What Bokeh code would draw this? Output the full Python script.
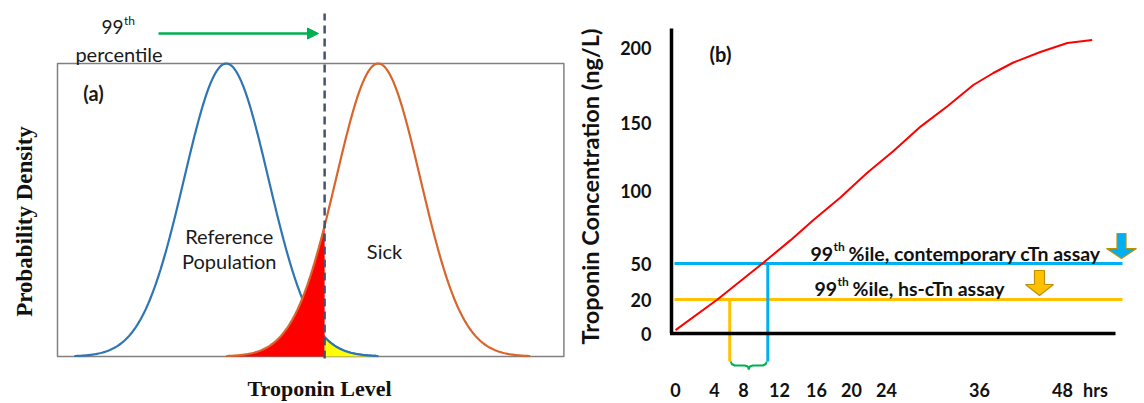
import numpy as np
from bokeh.plotting import figure
from bokeh.layouts import row
from bokeh.models import Range1d, FixedTicker, Arrow, NormalHead, Title
from bokeh.core.properties import value
from bokeh.embed import file_html
from bokeh.resources import INLINE

# ---------------- data : panel (a) ----------------
REF_MEAN = 4.0        # reference population mean (arbitrary troponin units)
SICK_MEAN = 7.6       # sick population mean
SD = 1.0              # common standard deviation
TAIL = 3.6            # curves drawn to +/- 3.6 SD
CUTOFF = 6.33         # 99th percentile of the reference population
BOX_RIGHT = 12.0      # right end of the level axis
LABEL_A = ["Reference", "Population"]
LABEL_SICK = "Sick"

# ---------------- data : panel (b) ----------------
X_TICKS = [0, 4, 8, 12, 16, 20, 24, 36, 48]
X_TICK_LABELS = ["0", "4", "8", "12", "16", "20", "24", "36", "48"]
X_UNIT_LABEL = "hrs"
X_UNIT_HOUR = 52.8
Y_TICKS = [0, 20, 50, 100, 150, 200]
Y_TICK_LABELS = ["0", "20", "50", "100", "150", "200"]
# schematic (non-linear) axes of the original drawing: value -> position
X_SCALE_HOURS = [0, 4, 8, 12, 16, 20, 24, 36, 48, 60]
X_SCALE_POS = [4, 43, 72, 108, 145, 180, 215, 308, 391, 474]
Y_SCALE_CONC = [0, 20, 50, 100, 150, 200, 250]
Y_SCALE_POS = [0, 34, 70, 143, 211, 286, 361]

HOURS = [0, 4.4, 10.1, 13.2, 15.7, 18.7, 21.8, 24.9, 28.4, 31.9, 35.2, 38.0, 40.9, 44.8, 48.7, 52.3]
CONC = [2, 20, 50, 66, 80, 95, 113, 129, 147, 161, 175, 183, 190, 197, 203, 205]

CONTEMP_CUTOFF = 50     # 99th %ile contemporary cTn assay (ng/L)
HS_CUTOFF = 20          # 99th %ile hs-cTn assay (ng/L)
CONTEMP_DETECT_H = 10.7
HS_DETECT_H = 6.1

RED = "#ff0000"
BLUE_A = "#2E75B6"
ORANGE_A = "#D9652B"
CYAN = "#00B0F0"
GOLD = "#FFC000"
GOLD_EDGE = "#BF9000"
GREEN = "#00B050"
FONT = "Lato"
TXT = "#1a1a1a"

H = 403
FRAME_BOTTOM = 372

# =============== panel (a) ===============
PX_X, X0 = 42.2, 57.0          # layout: pixels per unit, box left edge
PX_Y, Y0 = 734.4, 356.0
def lx(px):
    return (px - X0) / PX_X
def ly(py):
    return (Y0 - py) / PX_Y

def pdf(x, mu):
    return np.exp(-0.5 * ((x - mu) / SD) ** 2) / (SD * np.sqrt(2 * np.pi))

peak = pdf(REF_MEAN, REF_MEAN)

p1 = figure(width=572, height=H, output_backend="svg", toolbar_location=None,
            x_range=Range1d(lx(0), lx(572)), y_range=Range1d(ly(FRAME_BOTTOM), ly(0)),
            x_axis_location=None, y_axis_location=None,
            min_border_left=0, min_border_right=0, min_border_top=0,
            min_border_bottom=H - FRAME_BOTTOM)
p1.grid.grid_line_color = None
p1.outline_line_color = None

p1.quad(left=0, right=BOX_RIGHT, bottom=0, top=peak, fill_color=None,
        line_color="#808080", line_width=1.5)

xr = np.linspace(REF_MEAN - TAIL * SD, REF_MEAN + TAIL * SD, 301)
xs = np.linspace(SICK_MEAN - TAIL * SD, SICK_MEAN + TAIL * SD, 301)
p1.line(xr, pdf(xr, REF_MEAN), line_color=BLUE_A, line_width=2.2)

x_red = np.linspace(SICK_MEAN - TAIL * SD, CUTOFF, 150)
p1.varea(x=x_red, y1=np.zeros_like(x_red), y2=pdf(x_red, SICK_MEAN), fill_color=RED)
x_yel = np.linspace(CUTOFF, REF_MEAN + TAIL * SD, 120)
p1.varea(x=x_yel, y1=np.zeros_like(x_yel), y2=pdf(x_yel, REF_MEAN), fill_color="#FFFF00")
p1.line(x_yel, pdf(x_yel, REF_MEAN), line_color=BLUE_A, line_width=2.2)
p1.line(xs, pdf(xs, SICK_MEAN), line_color=ORANGE_A, line_width=2.2)

p1.segment(x0=[CUTOFF], y0=[ly(358)], x1=[CUTOFF], y1=[ly(13)],
           line_color="#44546A", line_width=2.5, line_dash="8 5")

p1.add_layout(Arrow(end=NormalHead(size=11, fill_color=GREEN, line_color=GREEN),
                    x_start=lx(158), y_start=ly(33), x_end=lx(318), y_end=ly(33),
                    line_color=GREEN, line_width=2.5))

def atext(px, py, txt, size, align="left", base="alphabetic", style="normal"):
    p1.text(x=[lx(px)], y=[ly(py)], text=[txt], text_font=value(FONT), text_font_size=size,
            text_font_style=style, text_baseline=base, text_align=align, text_color=TXT)

atext(101, 26, "99", "19px")
atext(123.5, 20, "th", "12px")
atext(118.5, 53, "percentile", "20px", align="center")
atext(93, 92, "(a)", "20px", align="center", base="middle", style="bold")
p1.text(x=[REF_MEAN + 0.07, REF_MEAN + 0.07], y=[ly(235), ly(260)], text=LABEL_A,
        text_font=value(FONT), text_font_size="20px", text_baseline="alphabetic",
        text_align="center", text_color=TXT)
atext(384, 250, LABEL_SICK, "20px", align="center")
p1.text(x=[lx(24)], y=[ly(221)], text=["Probability Density"], angle=np.pi / 2,
        text_font=value("Liberation Serif"), text_font_style="bold", text_font_size="23px",
        text_baseline="middle", text_align="center", text_color="#111111")
p1.add_layout(Title(text="Troponin Level", align="left", offset=247, standoff=3,
                    text_font="Liberation Serif", text_font_style="bold",
                    text_font_size="22px", text_color="#111111"), "below")

# =============== panel (b) ===============
def xp(h):
    return np.interp(h, X_SCALE_HOURS, X_SCALE_POS)
def yp(c):
    return np.interp(c, Y_SCALE_CONC, Y_SCALE_POS)
def ox(px):   # layout helper: picture column -> plot position
    return px - 671
def oy(py):
    return 333 - py

p2 = figure(width=572, height=H, output_backend="svg", toolbar_location=None,
            x_range=Range1d(-9, 473), y_range=Range1d(oy(FRAME_BOTTOM), 333),
            min_border_left=90, min_border_right=0, min_border_top=0,
            min_border_bottom=H - FRAME_BOTTOM)
p2.grid.grid_line_color = None
p2.outline_line_color = None

xtick_pos = [int(round(float(xp(h)))) for h in X_TICKS] + [int(round(float(xp(X_UNIT_HOUR))))]
xlabels = X_TICK_LABELS + [X_UNIT_LABEL]
ytick_pos = [int(round(float(yp(c)))) for c in Y_TICKS]

xa = p2.xaxis[0]
xa.ticker = FixedTicker(ticks=xtick_pos)
xa.major_label_overrides = {t: s for t, s in zip(xtick_pos, xlabels)}
ya = p2.yaxis[0]
ya.ticker = FixedTicker(ticks=ytick_pos)
ya.major_label_overrides = {t: s for t, s in zip(ytick_pos, Y_TICK_LABELS)}
for ax in (xa, ya):
    ax.axis_line_color = None
    ax.major_tick_line_color = None
    ax.minor_tick_line_color = None
    ax.major_tick_out = 0
    ax.major_tick_in = 0
    ax.major_label_text_font = FONT
    ax.major_label_text_font_style = "bold"
    ax.major_label_text_font_size = "18px"
    ax.major_label_text_color = "#111111"
xa.major_label_standoff = 6
ya.major_label_standoff = 11
ya.axis_label = "Troponin Concentration (ng/L)"
ya.axis_label_text_font = FONT
ya.axis_label_text_font_style = "bold"
ya.axis_label_text_font_size = "23.5px"
ya.axis_label_text_color = "#111111"
ya.axis_label_standoff = 13

# threshold lines
p2.segment(x0=[xp(0) - 1], y0=[yp(CONTEMP_CUTOFF)], x1=[ox(1122)], y1=[yp(CONTEMP_CUTOFF)],
           line_color=CYAN, line_width=3)
p2.segment(x0=[xp(0) - 1], y0=[yp(HS_CUTOFF)], x1=[ox(1122)], y1=[yp(HS_CUTOFF)],
           line_color=GOLD, line_width=3)
# drop lines to the time axis
p2.segment(x0=[xp(CONTEMP_DETECT_H)], y0=[yp(CONTEMP_CUTOFF)], x1=[xp(CONTEMP_DETECT_H)],
           y1=[oy(361)], line_color=CYAN, line_width=3)
p2.segment(x0=[xp(HS_DETECT_H)], y0=[yp(HS_CUTOFF)], x1=[xp(HS_DETECT_H)],
           y1=[oy(361)], line_color=GOLD, line_width=3)
# curly brace between the two detection times
xl, xr2 = float(xp(HS_DETECT_H)), float(xp(CONTEMP_DETECT_H))
m = (xl + xr2) / 2
bx = [xl + 1, xl + 2, xl + 5, m - 4, m - 1, m, m + 1, m + 4, xr2 - 5, xr2 - 2, xr2 - 1]
by = [oy(v) for v in [361, 363.5, 365, 365, 366, 369, 366, 365, 365, 363.5, 361]]
p2.line(bx, by, line_color=GREEN, line_width=2)

# axes lines
p2.segment(x0=[0], y0=[0], x1=[0], y1=[oy(28)], line_color="black", line_width=3.5)
p2.segment(x0=[-1.5], y0=[0], x1=[ox(1115)], y1=[0], line_color="black", line_width=3.5)

# troponin curve
p2.line(xp(HOURS), yp(CONC), line_color=RED, line_width=2)

# block arrows
def block_arrow(cx, top, shaft_w, head_y, head_w, tip_y):
    xs_ = [cx - shaft_w / 2, cx + shaft_w / 2, cx + shaft_w / 2, cx + head_w / 2, cx,
           cx - head_w / 2, cx - shaft_w / 2]
    ys_ = [top, top, head_y, head_y, tip_y, head_y, head_y]
    return [ox(v) for v in xs_], [oy(v) for v in ys_]
ax1, ay1 = block_arrow(1121, 233, 9, 248, 30, 258)
ax2, ay2 = block_arrow(1039, 270, 10, 284, 28, 295)
p2.patch(ax1, ay1, fill_color=CYAN, line_color=GOLD_EDGE, line_width=1.2)
p2.patch(ax2, ay2, fill_color=GOLD, line_color=GOLD_EDGE, line_width=1.2)

# annotations
def put(px, py, txt, size, align="left", base="alphabetic"):
    p2.text(x=[ox(px)], y=[oy(py)], text=[txt], text_font=value(FONT), text_font_style="bold",
            text_font_size=size, text_align=align, text_baseline=base, text_color="#111111")
put(810, 253, "99", "19.5px")
put(833, 246, "th", "12px")
put(848, 253, "%ile, contemporary cTn assay", "19.5px")
put(814, 288, "99", "19.5px")
put(837, 281, "th", "12px")
put(852, 288, "%ile, hs-cTn assay", "19.5px")
put(720, 53, "(b)", "20px", align="center", base="middle")

layout = row(p1, p2)
open("out.html", "w").write(file_html(layout, INLINE))
